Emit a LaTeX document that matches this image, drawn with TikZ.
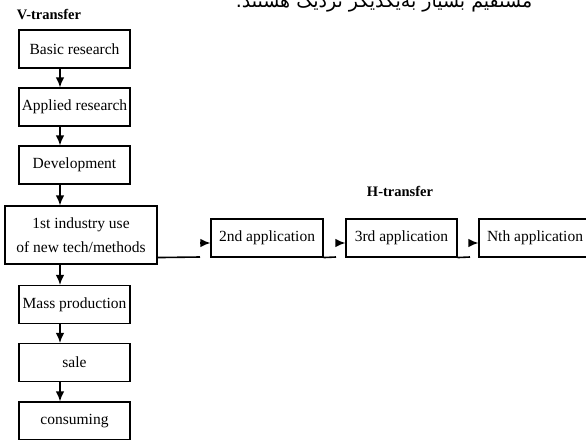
\documentclass[tikz,border=0pt]{standalone}
\usepackage{fontspec}
\setmainfont{Liberation Serif}
\newfontfamily\farsifont[Script=Arabic]{DejaVu Sans}
\TeXXeTstate=1
\usetikzlibrary{arrows.meta}
\usetikzlibrary{backgrounds}

\begin{document}
\begin{tikzpicture}[x=1pt,y=-1pt]
    \tikzstyle{stage}=[draw,line width=1.1pt,minimum width=111pt,minimum height=38pt,inner sep=0pt,font=\fontsize{15.5}{24}\selectfont];
    \tikzstyle{flow}=[line width=1.6pt,-{Latex[length=10pt,width=8.5pt]}];
    \tikzstyle{title}=[font=\fontsize{14.5}{17}\selectfont\bfseries];

    \useasboundingbox (0,0) rectangle (586,439);
    \clip (0,0) rectangle (586,439);
    \fill[white] (0,0) rectangle (586,439);

    \node[font=\farsifont\fontsize{19}{22}\selectfont,anchor=base] (note) at (384,7) {\beginR مستقیم بسیار به‌یکدیگر نزدیک هستند.\endR};

    \node[title] (vtitle) at (49,15) {V-transfer};
    \node[title] (htitle) at (400,191) {H-transfer};

    \node[stage] (basic) at (74.5,49) {Basic research};
    \node[stage] (applied) at (74.5,107) {Applied research};
    \node[stage] (devel) at (74.5,165) {Development};
    \node[stage,minimum width=152pt,minimum height=58pt,align=center] (first) at (81,235) {1st industry use\\of new tech/methods};
    \node[stage] (mass) at (74.5,304.5) {Mass production};
    \node[stage] (sale) at (74.5,362.5) {sale};
    \node[stage] (consume) at (74.5,421) {consuming};

    \node[stage,minimum width=112pt] (app2) at (267,238) {2nd application};
    \node[stage] (app3) at (401.5,238) {3rd application};
    \node[stage,minimum width=112pt] (appn) at (535,238) {Nth application};

    \coordinate (spine) at (60,0);
    \draw[flow] (basic.south -| spine) -- (applied.north -| spine);
    \draw[flow] (applied.south -| spine) -- (devel.north -| spine);
    \draw[flow] (devel.south -| spine) -- (first.north -| spine);
    \draw[flow] (first.south -| spine) -- (mass.north -| spine);
    \draw[flow] (mass.south -| spine) -- (sale.north -| spine);
    \draw[flow] (sale.south -| spine) -- (consume.north -| spine);

    \coordinate (h1) at (200,257);
    \coordinate (h2) at (336,257);
    \coordinate (h3) at (470,257);
    \draw[line width=1.6pt] ([yshift=7pt]first.south east) -- (h1);
    \draw[flow] ([yshift=14pt]h1) -- ([yshift=-5pt]app2.west);
    \draw[line width=1.6pt] (app2.south east) -- (h2);
    \draw[flow] ([yshift=14pt]h2) -- ([yshift=-5pt]app3.west);
    \draw[line width=1.6pt] (app3.south east) -- (h3);
    \draw[flow] ([yshift=14pt]h3) -- ([yshift=-5pt]appn.west);
\end{tikzpicture}
\end{document}
